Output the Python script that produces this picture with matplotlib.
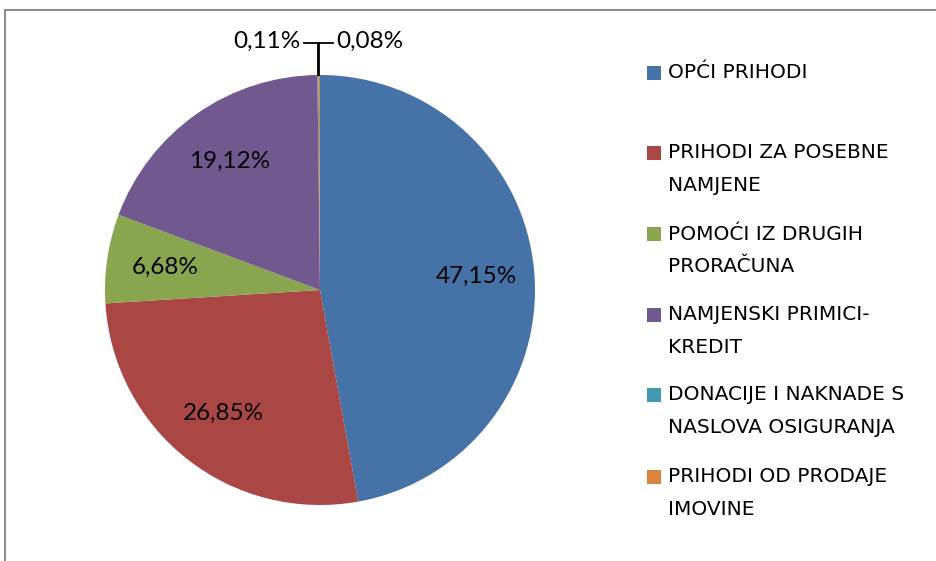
import matplotlib
matplotlib.use("Agg")
import matplotlib.pyplot as plt
from matplotlib.patches import Rectangle
import numpy as np

plt.rcParams['font.family'] = ['Lato', 'DejaVu Sans']

categories = ["OPĆI PRIHODI", "PRIHODI ZA POSEBNE\nNAMJENE", "POMOĆI IZ DRUGIH\nPRORAČUNA",
              "NAMJENSKI PRIMICI-\nKREDIT", "DONACIJE I NAKNADE S\nNASLOVA OSIGURANJA",
              "PRIHODI OD PRODAJE\nIMOVINE"]
values = [47.15, 26.85, 6.68, 19.12, 0.08, 0.11]
colors = ["#4572A7", "#AA4643", "#89A54E", "#71588F", "#4198AF", "#DB843D"]

W, H = 937, 561
fig = plt.figure(figsize=(W / 100, H / 100), dpi=100)

# outer frame
fig.patches.append(Rectangle((5 / W, -0.1), 1.2, (H - 10) / H + 0.1, transform=fig.transFigure,
                             fill=False, edgecolor="#8c8c8c", linewidth=1.5))

cx, cy, r = 320, 290, 215
ax = fig.add_axes([(cx - r) / W, (H - cy - r) / H, 2 * r / W, 2 * r / H])

def fmt(v):
    return ("%.2f%%" % v).replace(".", ",")

wedges, _ = ax.pie(values, colors=colors, startangle=90, counterclock=False,
                   wedgeprops=dict(linewidth=0))
ax.set_xlim(-1, 1)
ax.set_ylim(-1, 1)
ax.set_aspect("equal")
ax.axis("off")

for w, v in zip(wedges, values):
    if v < 1:
        continue
    ang = np.deg2rad((w.theta1 + w.theta2) / 2)
    ax.text(0.73 * np.cos(ang), 0.73 * np.sin(ang), fmt(v), ha="center", va="center",
            fontsize=17.5, color="#000000")

# small slices with leader lines
ly = 1.15
small = [(i, v) for i, v in enumerate(values) if v < 1]
sides = {5: -1, 4: 1}
for i, v in small:
    w = wedges[i]
    ang = np.deg2rad((w.theta1 + w.theta2) / 2)
    px, py = np.cos(ang), np.sin(ang)
    s = sides[i]
    ax.plot([px, px, px + s * 0.07], [py, ly, ly], color="black", lw=1.3, clip_on=False)
    ax.text(px + s * 0.085, ly + 0.005, fmt(v), ha="right" if s < 0 else "left", va="center",
            fontsize=17.5, color="#000000")

# legend
ys = [73, 153, 234, 315, 395, 477]
for lab, c, y in zip(categories, colors, ys):
    fig.patches.append(Rectangle((647 / W, 1 - (y + 7) / H), 14 / W, 14 / H,
                                 transform=fig.transFigure, facecolor=c, edgecolor="none"))
    lines = lab.split("\n")
    for k, ln in enumerate(lines):
        fig.text(668 / W, 1 - (y + 32.5 * k) / H, ln, ha="left", va="center",
                 fontsize=14.5, color="#000000", family=["DejaVu Sans"])

fig.savefig("out.png", dpi=100)
